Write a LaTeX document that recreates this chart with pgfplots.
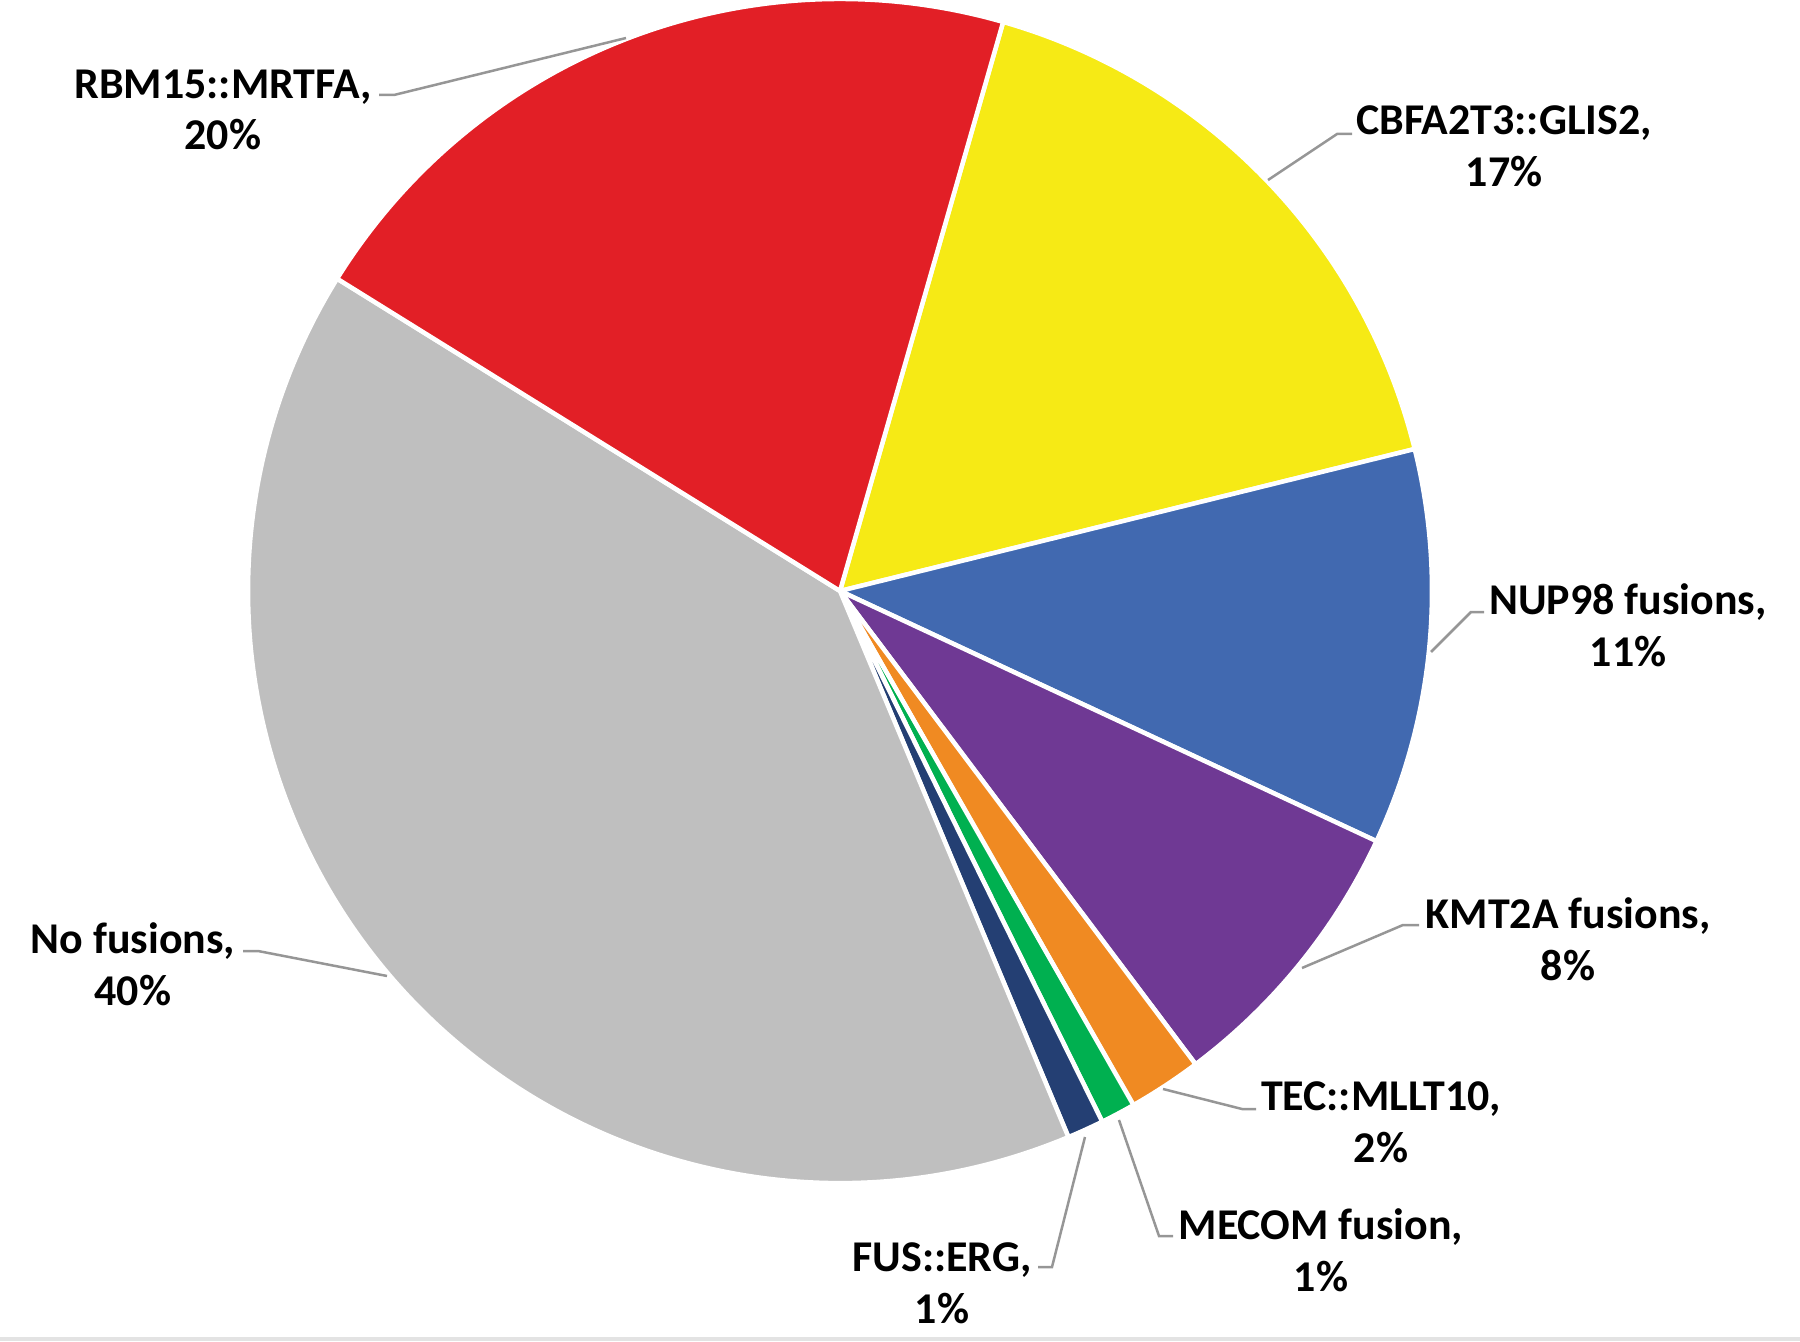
\documentclass[border=0pt]{standalone}
\usepackage{pgfplots}
\usepackage{pgfplotstable}
\pgfplotsset{compat=1.18}
\usepackage{fontspec}
\setmainfont{Carlito}
\definecolor{cyellow}{RGB}{246,234,21}
\definecolor{cblue}{RGB}{65,105,176}
\definecolor{cpurple}{RGB}{111,57,148}
\definecolor{corange}{RGB}{240,138,34}
\definecolor{cgreen}{RGB}{0,176,80}
\definecolor{cnavy}{RGB}{36,63,115}
\definecolor{cgray}{RGB}{191,191,191}
\definecolor{cred}{RGB}{226,31,38}
\definecolor{cline}{RGB}{150,150,150}
\tikzset{lab/.style={font=\fontsize{12.5}{14.7}\selectfont\bfseries, align=center, inner sep=0pt}}
% slices clockwise, starting at 74 degrees
\pgfplotstableread{
value col
16.7  cyellow
10.8  cblue
7.8   cpurple
2.0   corange
0.95  cgreen
1.0   cnavy
40.15 cgray
20.6  cred
}\piedata
\begin{document}
\begin{tikzpicture}
\begin{axis}[
  scale only axis, width=180mm, height=134.1mm,
  xmin=0, xmax=1800, ymin=0, ymax=1341,
  hide axis, clip=false,
]
\pgfplotsextra{
  \gdef\startang{74}
  \foreach \i in {0,...,7}{
    \pgfplotstablegetelem{\i}{value}\of\piedata \global\let\val\pgfplotsretval
    \pgfplotstablegetelem{\i}{col}\of\piedata \global\let\col\pgfplotsretval
    \pgfmathsetmacro\endang{\startang - \val*3.6}
    \fill[fill=\col, draw=white, line width=0.45mm, line join=round]
      (axis cs:840,750) -- ++(\startang:59.2mm)
      arc[start angle=\startang, end angle=\endang, radius=59.2mm] -- cycle;
    \global\let\startang\endang
  }
  % bottom light gray strip
  \fill[gray!22] (axis cs:0,0) rectangle (axis cs:1800,4);
  % leader lines
  \draw[cline, line width=0.25mm] (axis cs:379,1246) -- (axis cs:394,1246) -- (axis cs:626,1303);
  \draw[cline, line width=0.25mm] (axis cs:1352,1207) -- (axis cs:1337,1207) -- (axis cs:1268,1161);
  \draw[cline, line width=0.25mm] (axis cs:1484,729) -- (axis cs:1471,729) -- (axis cs:1431,689);
  \draw[cline, line width=0.25mm] (axis cs:1419,416) -- (axis cs:1403,416) -- (axis cs:1302,373);
  \draw[cline, line width=0.25mm] (axis cs:1256,232) -- (axis cs:1242,232) -- (axis cs:1163,252);
  \draw[cline, line width=0.25mm] (axis cs:1173,105) -- (axis cs:1159,105) -- (axis cs:1119,221);
  \draw[cline, line width=0.25mm] (axis cs:1038,74) -- (axis cs:1052,74) -- (axis cs:1085,204);
  \draw[cline, line width=0.25mm] (axis cs:243,390) -- (axis cs:258,390) -- (axis cs:387,365);
}
\node[lab] at (axis cs:223,1231) {RBM15::MRTFA,\\20\%};
\node[lab] at (axis cs:1504,1195) {CBFA2T3::GLIS2,\\17\%};
\node[lab] at (axis cs:1628,716) {NUP98 fusions,\\11\%};
\node[lab] at (axis cs:1568,402) {KMT2A fusions,\\8\%};
\node[lab] at (axis cs:1381,219) {TEC::MLLT10,\\2\%};
\node[lab] at (axis cs:1321,91) {MECOM fusion,\\1\%};
\node[lab] at (axis cs:942,58) {FUS::ERG,\\1\%};
\node[lab] at (axis cs:133,377) {No fusions,\\40\%};
\end{axis}
\pgfresetboundingbox
\path[use as bounding box] (current axis.south west) rectangle (current axis.north east);
\end{tikzpicture}
\end{document}
